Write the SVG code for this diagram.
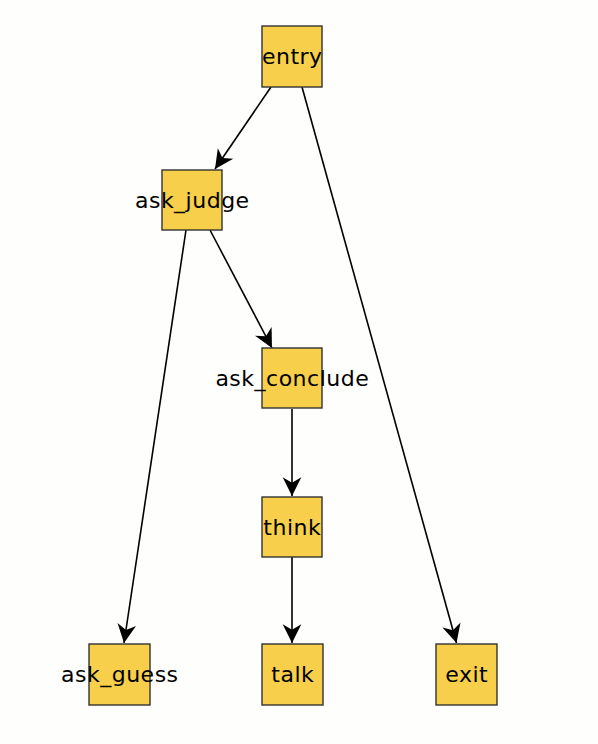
<svg xmlns="http://www.w3.org/2000/svg" width="598" height="744" viewBox="0 0 598 744">
<style>
.node rect{fill:#F7CF4A;stroke:#333333;stroke-width:1.4}
.node text{font-family:"DejaVu Sans","Liberation Sans",sans-serif;font-size:22px;letter-spacing:0.5px;fill:#000;text-anchor:middle}
.edge{stroke:#000;stroke-width:1.6;fill:none;marker-end:url(#arr)}
</style>
<defs>
<marker id="arr" markerUnits="userSpaceOnUse" markerWidth="22" markerHeight="22" viewBox="-18 -10 19 20" refX="0" refY="0" orient="auto">
<path d="M0,0 L-17,-8.5 L-12,0 L-17,8.5 Z" fill="#000"/>
</marker>
</defs>
<rect width="598" height="744" fill="#FEFEFC"/>
<g id="connectors">
<line class="edge" x1="271" y1="87" x2="215" y2="169"/>
<line class="edge" x1="302" y1="87" x2="456.5" y2="643"/>
<line class="edge" x1="186" y1="230" x2="124" y2="643"/>
<line class="edge" x1="210" y1="230" x2="272" y2="348"/>
<line class="edge" x1="292" y1="409" x2="292" y2="496"/>
<line class="edge" x1="292" y1="557" x2="292" y2="643"/>
</g>
<g id="entry" class="node"><rect x="262" y="26" width="60" height="61"/><text x="292.3" y="64">entry</text></g>
<g id="ask_judge" class="node"><rect x="162" y="170" width="60" height="60"/><text x="192.3" y="207.5">ask_judge</text></g>
<g id="ask_conclude" class="node"><rect x="262" y="348" width="60" height="60"/><text x="292.3" y="385.5">ask_conclude</text></g>
<g id="think" class="node"><rect x="262" y="497" width="60" height="60"/><text x="292.3" y="534.5">think</text></g>
<g id="ask_guess" class="node"><rect x="89" y="644" width="61" height="61"/><text x="119.8" y="682">ask_guess</text></g>
<g id="talk" class="node"><rect x="262" y="644" width="61" height="61"/><text x="292.8" y="682">talk</text></g>
<g id="exit" class="node"><rect x="436" y="644" width="61" height="61"/><text x="466.8" y="682">exit</text></g>
</svg>
